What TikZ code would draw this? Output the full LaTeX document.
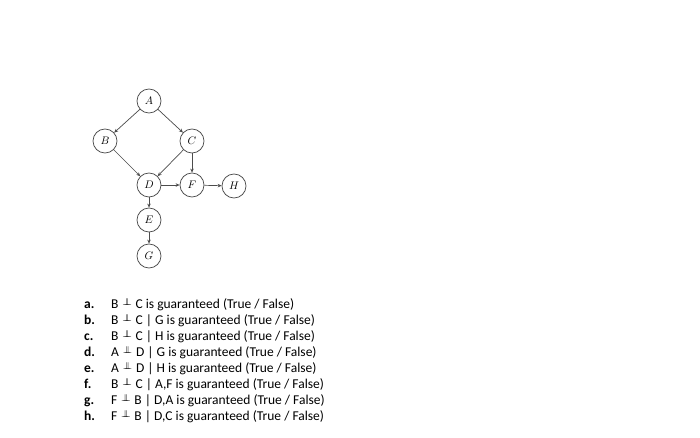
\documentclass[tikz,border=0pt]{standalone}
\usepackage{fontspec}
\usepackage{graphicx}
\setmainfont{Carlito}
\usetikzlibrary{arrows.meta}
\newcommand{\indep}{\hspace{0.28em}\raisebox{0.42ex}{\scalebox{0.72}{$\perp\mkern-11.5mu\perp$}}\hspace{0.28em}}
\begin{document}
\begin{tikzpicture}[x=1pt,y=-1pt,
  var/.style={circle,draw=black!70,line width=0.75pt,minimum size=24pt,inner sep=0pt,font=\fontsize{11}{12}\selectfont},
  edge/.style={draw=black!70,line width=0.7pt,-{Stealth[length=4pt,width=3.5pt]}},
  lab/.style={anchor=base west,font=\fontsize{13.5}{15}\selectfont\bfseries,inner sep=0pt},
  txt/.style={anchor=base west,font=\fontsize{13.5}{15}\selectfont,inner sep=0pt}]
\useasboundingbox[fill=white] (0,0) rectangle (700,437);
\node[var] (A) at (149,101) {$A$};
\node[var] (B) at (105,141) {$B$};
\node[var] (C) at (192,141) {$C$};
\node[var] (D) at (149,185) {$D$};
\node[var] (F) at (192,185) {$F$};
\node[var] (H) at (234,186) {$H$};
\node[var] (E) at (149,220) {$E$};
\node[var] (G) at (149,256) {$G$};
\draw[edge] (A) -- (B);
\draw[edge] (A) -- (C);
\draw[edge] (B) -- (D);
\draw[edge] (C) -- (D);
\draw[edge] (C) -- (F);
\draw[edge] (D) -- (F);
\draw[edge] (F) -- (H);
\draw[edge] (D) -- (E);
\draw[edge] (E) -- (G);
\foreach \l/\t [count=\i from 0] in {
  a./{B\indep C is guaranteed (True / False)},
  b./{B\indep C | G is guaranteed (True / False)},
  c./{B\indep C | H is guaranteed (True / False)},
  d./{A\indep D | G is guaranteed (True / False)},
  e./{A\indep D | H is guaranteed (True / False)},
  f./{B\indep C | A,F is guaranteed (True / False)},
  g./{F\indep B | D,A is guaranteed (True / False)},
  h./{F\indep B | D,C is guaranteed (True / False)}} {
  \node[lab] (l\i) at (84,308.5+\i*15.94) {\l};
  \node[txt] (t\i) at (111,308.5+\i*15.94) {\t};
}
\end{tikzpicture}
\end{document}
